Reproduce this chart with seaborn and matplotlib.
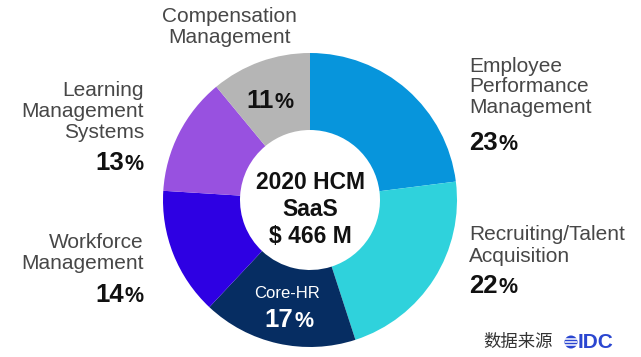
import matplotlib
matplotlib.use("Agg")
import seaborn as sns
from matplotlib import pyplot as plt
from matplotlib.patches import Circle

# data
segments = ["Employee Performance Management", "Recruiting/Talent Acquisition", "Core-HR",
            "Workforce Management", "Learning Management Systems", "Compensation Management"]
shares = [23, 22, 17, 14, 13, 11]
colors = ["#0795dc", "#2fd2dc", "#062d62", "#2e00e3", "#9851e0", "#b5b5b5"]
center_lines = ["2020 HCM", "SaaS", "$ 466 M"]

sns.set_style("white")
plt.rcParams['font.family'] = ['Liberation Sans', 'Noto Sans CJK SC', 'DejaVu Sans']

W, H = 641, 357
fig = plt.figure(figsize=(W / 100, H / 100), dpi=100)
ax = fig.add_axes([0, 0, 1, 1])

# y axis is flipped below, so counterclock + start -90 gives clockwise from top on screen
ax.pie(shares, colors=colors, startangle=-90, counterclock=True, center=(310, 200), radius=147,
       wedgeprops=dict(width=77, linewidth=0))
ax.set_xlim(0, W)
ax.set_ylim(H, 0)
ax.set_aspect('auto')
ax.axis('off')

grey = "#474747"
rend = fig.canvas.get_renderer()


def lines(x, ys, texts, ha, size=15, color=grey, weight='normal'):
    for y, s in zip(ys, texts):
        ax.text(x, y, s, ha=ha, va='baseline', fontsize=size, color=color, weight=weight)


def pct(x, y, num, ha, color="#111111", big=18.5, small=15.5):
    t1 = ax.text(0, y, str(num), fontsize=big, weight='bold', va='baseline', ha='left', color=color)
    t2 = ax.text(0, y, "%", fontsize=small, weight='bold', va='baseline', ha='left', color=color)
    w1 = t1.get_window_extent(rend).width
    w2 = t2.get_window_extent(rend).width
    gap = 1
    total = w1 + gap + w2
    start = {'left': x, 'right': x - total, 'center': x - total / 2}[ha]
    t1.set_x(start)
    t2.set_x(start + w1 + gap)


# right side labels
lines(469, [72, 92, 113], ["Employee", "Performance", "Management"], 'left')
pct(469, 150, shares[0], 'left')
lines(469, [240, 262], ["Recruiting/Talent", "Acquisition"], 'left')
pct(469, 293, shares[1], 'left')

# left side labels
lines(144, [96, 117, 138], ["Learning", "Management", "Systems"], 'right')
pct(144, 170, shares[4], 'right')
lines(144, [248, 269], ["Workforce", "Management"], 'right')
pct(144, 302, shares[3], 'right')

# top label
lines(229, [22, 43], ["Compensation", "Management"], 'center')
pct(270, 108, shares[5], 'center')

# inside navy slice
ax.text(287, 298, "Core-HR", ha='center', va='baseline', fontsize=12, color='white')
pct(289, 327, shares[2], 'center', color='white')

# centre
lines(310, [189, 216, 243], center_lines, 'center', size=16.5, color='#111111', weight='bold')

# source
ax.text(483, 342, "数据来源", ha='left', va='center', fontsize=12.5, color='#333333',
        family=['Noto Sans CJK SC', 'DejaVu Sans'])
idc_blue = "#2a46d0"
ax.add_patch(Circle((571, 342), 6.5, color=idc_blue, lw=0))
for dy in (-3, 0, 3):
    ax.plot([565, 577], [342 + dy, 342 + dy], color='white', lw=1.1, solid_capstyle='butt')
ax.text(578, 342, "IDC", ha='left', va='center', fontsize=15, weight='bold', color=idc_blue)

fig.savefig("out.png", dpi=100)
